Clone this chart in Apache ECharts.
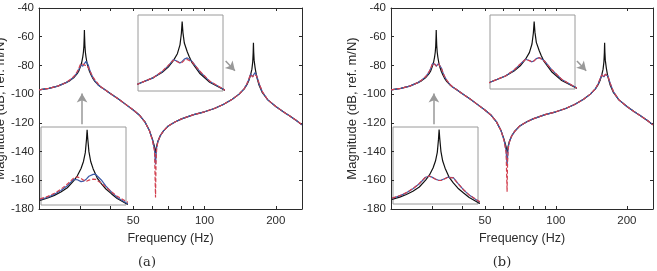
<!DOCTYPE html>
<html>
<head>
<meta charset="utf-8">
<script src="https://cdn.jsdelivr.net/npm/echarts@6/dist/echarts.min.js"></script>
<style>
  html, body { margin: 0; padding: 0; background: #fff; }
  #chart { width: 657px; height: 271px; }
</style>
</head>
<body>
<div id="chart"></div>
<script>
// frequency points (Hz), shared by every curve
var freq = [20, 22, 24, 26, 27, 28, 28.5, 29, 29.5, 30, 30.3, 30.6, 30.8, 30.95, 31.05, 31.1, 31.15, 31.25, 31.4, 31.6,
  31.8, 31.95, 32.3, 32.7, 33.2, 33.7, 34.5, 35.5, 36.5, 38, 40, 43, 46, 50, 53, 56, 58.5, 60.3, 61.5, 62.1,
  62.4, 62.8, 63.5, 65, 67, 70, 75, 80, 90, 100, 110, 120, 131, 140, 147, 151, 154, 156.5, 158.5, 159.8,
  160.5, 160.9, 161.3, 162, 163.5, 164.5, 166, 170, 175.5, 185, 200, 215, 230, 245, 258];

// black: reference FRF (dB, ref. m/N)
var refDb = [-97.0, -96.0, -94.4, -92.0, -90.6, -88.6, -87.3, -85.7, -83.6, -80.2, -77.8, -74.2, -70.8, -66.5, -60.0, -55.3, -59.5, -66.0, -70.8, -74.3,
  -76.9, -78.9, -81.6, -84.2, -86.6, -88.8, -91.3, -93.4, -95.0, -97.0, -99.6, -103.0, -106.6, -111.0, -114.5, -119.3, -125.3, -131.5, -136.5, -141.0,
  -140.0, -136.0, -133.0, -129.0, -125.8, -122.4, -119.4, -117.2, -114.3, -112.3, -110.0, -107.2, -103.6, -100.0, -96.3, -93.4, -90.3, -86.6, -82.6, -77.5,
  -71.0, -64.2, -70.5, -76.5, -81.5, -84.2, -87.8, -93.8, -99.0, -104.0, -108.6, -112.3, -115.4, -118.5, -121.4];

// (a) blue solid / red dashed
var blueA = [-97.0, -96.0, -94.4, -92.0, -90.3, -88.2, -86.8, -84.9, -82.6, -79.5, -79.7, -80.6, -80.4, -79.9, -79.3, -78.9, -78.5, -78.0, -77.5, -77.1,
  -77.0, -77.5, -79.8, -82.8, -85.8, -88.3, -90.9, -93.4, -95.0, -97.0, -99.6, -103.0, -106.6, -111.0, -114.5, -119.3, -125.3, -132.0, -138.5, -149.0,
  -143.0, -137.0, -133.2, -129.0, -125.8, -122.4, -119.4, -117.2, -114.3, -112.3, -110.0, -107.2, -103.6, -100.0, -96.3, -93.0, -89.6, -86.0, -86.9, -87.9,
  -87.6, -87.0, -86.4, -85.7, -85.0, -85.2, -87.0, -92.8, -98.5, -104.0, -108.6, -112.3, -115.4, -118.5, -121.4];
var redA = [-97.0, -96.0, -94.4, -92.0, -90.0, -87.8, -86.3, -84.3, -81.8, -78.9, -78.3, -79.1, -79.9, -80.3, -80.4, -80.3, -80.2, -79.9, -79.6, -79.4,
  -79.5, -80.0, -81.3, -83.3, -85.6, -87.7, -90.2, -92.7, -94.8, -97.0, -99.6, -103.0, -106.6, -111.0, -114.5, -119.3, -125.3, -132.5, -140.0, -172.0,
  -148.0, -138.0, -133.5, -129.0, -125.8, -122.4, -119.4, -117.2, -114.3, -112.3, -110.0, -107.2, -103.6, -100.0, -96.3, -92.8, -89.3, -86.3, -87.2, -88.0,
  -87.9, -87.6, -87.1, -86.4, -85.9, -86.0, -87.3, -92.5, -98.3, -104.0, -108.6, -112.3, -115.4, -118.5, -121.4];

// (b) blue solid / red dashed
var blueB = [-97.0, -96.0, -94.4, -92.0, -90.2, -88.0, -86.5, -84.5, -82.0, -78.8, -78.2, -79.0, -79.7, -80.1, -80.3, -80.4, -80.4, -80.3, -80.0, -79.4,
  -78.8, -78.5, -79.0, -81.8, -85.0, -87.6, -90.5, -93.2, -95.0, -97.0, -99.6, -103.0, -106.6, -111.0, -114.5, -119.3, -125.3, -132.0, -139.0, -150.0,
  -144.0, -137.0, -133.2, -129.0, -125.8, -122.4, -119.4, -117.2, -114.3, -112.3, -110.0, -107.2, -103.6, -100.0, -96.3, -92.9, -89.4, -86.5, -87.2, -88.0,
  -87.8, -87.3, -86.8, -86.1, -85.5, -85.6, -87.2, -92.6, -98.4, -104.0, -108.6, -112.3, -115.4, -118.5, -121.4];
var redB = [-97.0, -96.0, -94.4, -92.0, -90.1, -87.9, -86.4, -84.4, -81.9, -78.7, -78.2, -79.1, -79.8, -80.2, -80.4, -80.5, -80.5, -80.4, -80.1, -79.5,
  -78.9, -78.6, -79.1, -81.9, -85.0, -87.5, -90.4, -93.1, -95.0, -97.0, -99.6, -103.0, -106.6, -111.0, -114.5, -119.3, -125.3, -132.5, -140.5, -168.0,
  -147.0, -138.0, -133.5, -129.0, -125.8, -122.4, -119.4, -117.2, -114.3, -112.3, -110.0, -107.2, -103.6, -100.0, -96.3, -92.8, -89.3, -86.6, -87.3, -88.1,
  -87.9, -87.4, -86.9, -86.2, -85.6, -85.7, -87.3, -92.5, -98.3, -104.0, -108.6, -112.3, -115.4, -118.5, -121.4];

var xTicks = [30, 40, 50, 60, 70, 80, 90, 100, 200];
var xLabels = [50, 100, 200];
var yMin = -180, yMax = -40, yStep = 20;

var axisColor = '#2b2b2b';
var black = '#111111', blue = '#3c5aa8', red = '#d2404f';

function pairs(ys) {
  return freq.map(function (f, i) { return [f, ys[i]]; });
}

function curve(ys, xi, color, dashed, extra) {
  var s = {
    type: 'line',
    xAxisIndex: xi,
    yAxisIndex: xi,
    data: pairs(ys),
    showSymbol: false,
    symbol: 'none',
    smooth: false,
    animation: false,
    clip: true,
    lineStyle: { color: color, width: 1.2, type: dashed ? [4, 2] : 'solid' },
    z: 3
  };
  if (extra) s.markLine = extra;
  return s;
}

var arrows = {
  silent: true,
  animation: false,
  symbol: ['none', 'arrow'],
  symbolSize: [8, 9],
  label: { show: false },
  lineStyle: { color: '#999999', width: 1.5, type: 'solid' },
  data: [
    [{ coord: [30.4, -121] }, { coord: [30.4, -99.5] }],
    [{ coord: [122.8, -76.9] }, { coord: [134.4, -83.7] }]
  ]
};

// main grids + insets (lower-left: first peak, upper: second peak)
var grids = [
  { left: 39, top: 8, width: 263, height: 201 },
  { left: 39, top: 8, width: 263, height: 201 },
  { left: 391, top: 8, width: 262, height: 201 },
  { left: 391, top: 8, width: 262, height: 201 },
  { left: 41, top: 127, width: 85, height: 78, show: true, borderColor: '#9a9a9a', borderWidth: 1, backgroundColor: '#fff' },
  { left: 138, top: 15, width: 85, height: 76, show: true, borderColor: '#9a9a9a', borderWidth: 1, backgroundColor: '#fff' },
  { left: 393, top: 127, width: 85, height: 77, show: true, borderColor: '#9a9a9a', borderWidth: 1, backgroundColor: '#fff' },
  { left: 490, top: 15, width: 85, height: 74, show: true, borderColor: '#9a9a9a', borderWidth: 1, backgroundColor: '#fff' }
];
grids.forEach(function (g) { g.outerBoundsMode = 'none'; g.containLabel = false; });

function mainX(gi, top) {
  return {
    type: 'log', logBase: 10, gridIndex: gi, min: 20, max: 258,
    position: top ? 'top' : 'bottom',
    name: top ? '' : 'Frequency (Hz)', nameLocation: 'middle', nameGap: 22,
    nameTextStyle: { color: axisColor, fontSize: 12.5, fontFamily: 'Liberation Sans' },
    axisLine: { show: true, lineStyle: { color: axisColor, width: 1 } },
    axisTick: { show: true, inside: true, length: 3, customValues: xTicks, lineStyle: { color: axisColor } },
    axisLabel: { show: !top, customValues: xLabels, color: axisColor, fontSize: 11.5, margin: 6, fontFamily: 'Liberation Sans' },
    splitLine: { show: false }, minorTick: { show: false }
  };
}
function mainY(gi, right) {
  return {
    type: 'value', gridIndex: gi, min: yMin, max: yMax, interval: yStep,
    position: right ? 'right' : 'left',
    name: right ? '' : 'Magnitude (dB, ref. m/N)', nameLocation: 'middle', nameGap: 28,
    nameTextStyle: { color: axisColor, fontSize: 13, fontFamily: 'Liberation Sans' },
    axisLine: { show: true, lineStyle: { color: axisColor, width: 1 } },
    axisTick: { show: true, inside: true, length: 3, lineStyle: { color: axisColor } },
    axisLabel: { show: !right, color: axisColor, fontSize: 11.5, margin: 5, fontFamily: 'Liberation Sans' },
    splitLine: { show: false }
  };
}
function insetX(gi, lo, hi) {
  return { type: 'log', logBase: 10, gridIndex: gi, min: lo, max: hi, show: false };
}
function insetY(gi, lo, hi) {
  return { type: 'value', gridIndex: gi, min: lo, max: hi, show: false, splitLine: { show: false } };
}

var xAxes = [
  mainX(0, false), mainX(1, true), mainX(2, false), mainX(3, true),
  insetX(4, 27.5, 34.5), insetX(5, 140, 183), insetX(6, 27.5, 34.5), insetX(7, 140, 183)
];
var yAxes = [
  mainY(0, false), mainY(1, true), mainY(2, false), mainY(3, true),
  insetY(4, -92, -54), insetY(5, -104, -60.4), insetY(6, -92, -54), insetY(7, -104, -60.4)
];

var series = [];
[[0, 4, 5, blueA, redA], [2, 6, 7, blueB, redB]].forEach(function (p) {
  series.push(curve(refDb, p[0], black, false, arrows));
  series.push(curve(p[3], p[0], blue, false));
  series.push(curve(p[4], p[0], red, true));
  [p[1], p[2]].forEach(function (ix) {
    series.push(curve(refDb, ix, black, false));
    series.push(curve(p[3], ix, blue, false));
    series.push(curve(p[4], ix, red, true));
  });
});
// inset series sit above the main ones
series.forEach(function (s) { if (s.xAxisIndex >= 4) s.z = 6; });

var option = {
  backgroundColor: '#fff',
  animation: false,
  grid: grids,
  xAxis: xAxes,
  yAxis: yAxes,
  series: series,
  graphic: [
    { type: 'text', x: 147, y: 263, style: { text: '(a)', align: 'center', verticalAlign: 'middle', fontSize: 13, fontFamily: 'DejaVu Serif', fill: axisColor } },
    { type: 'text', x: 502, y: 263, style: { text: '(b)', align: 'center', verticalAlign: 'middle', fontSize: 13, fontFamily: 'DejaVu Serif', fill: axisColor } }
  ]
};

var myChart = echarts.init(document.getElementById('chart'), null, { renderer: 'canvas' });
myChart.setOption(option);
</script>
</body>
</html>
